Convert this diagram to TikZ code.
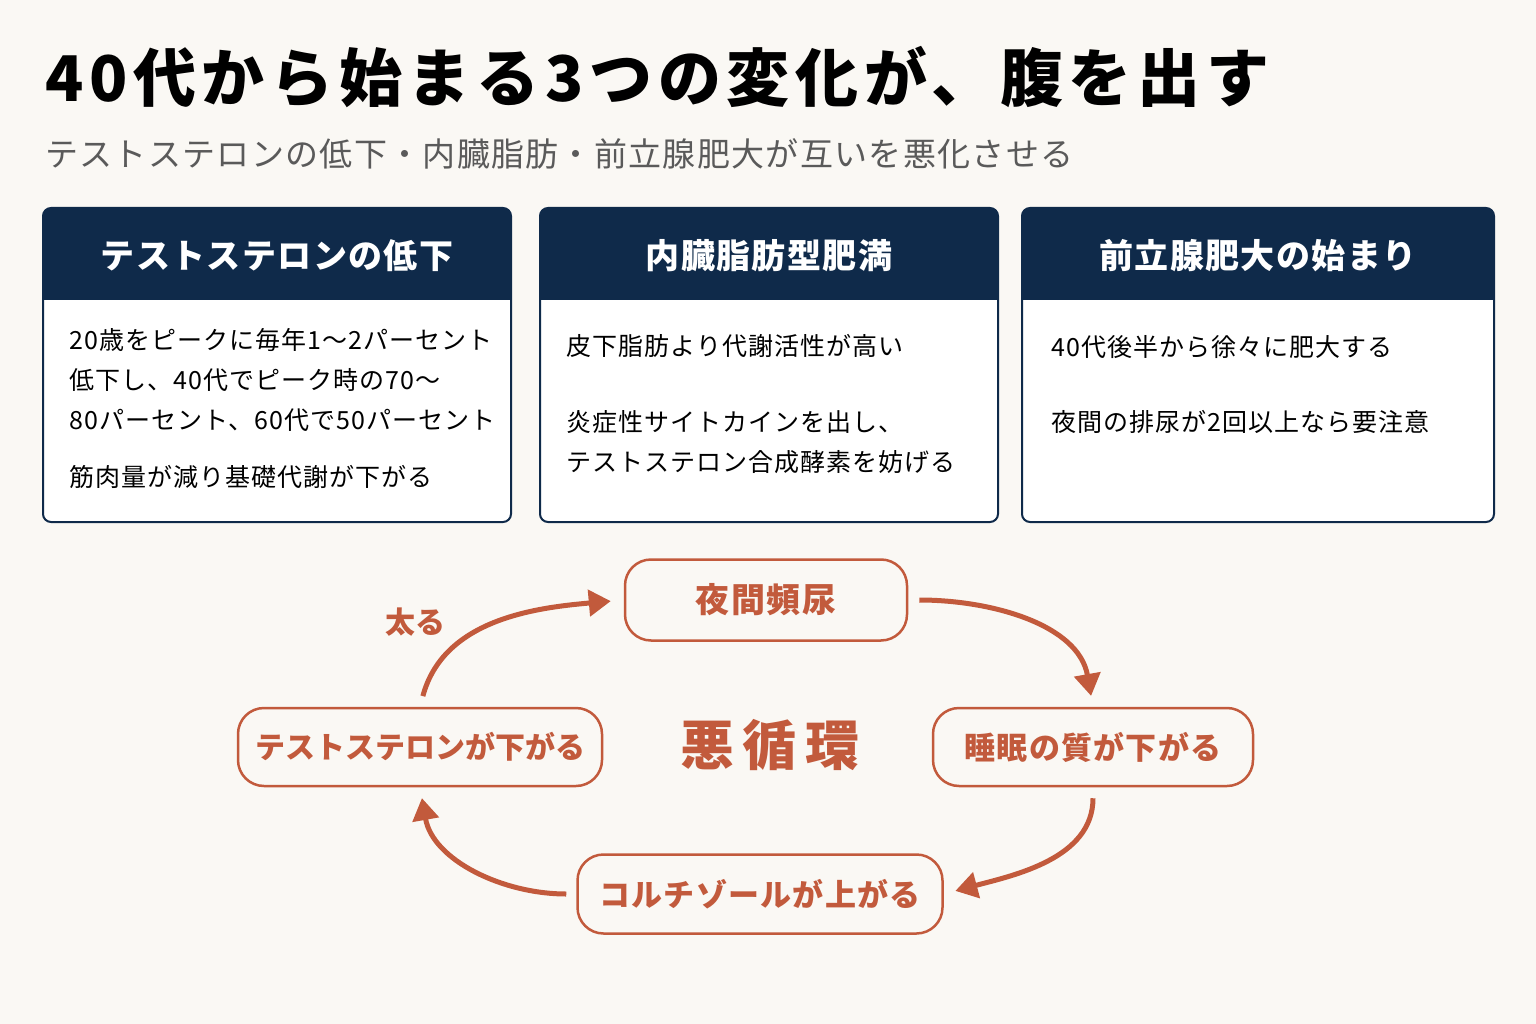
\documentclass[tikz,border=0pt]{standalone}
\usepackage{fontspec}
\setmainfont{Noto Sans CJK JP}
\newfontfamily\spaced{Noto Sans CJK JP}[LetterSpace=4]
\newfontfamily\wide{Noto Sans CJK JP}[LetterSpace=9]
\usetikzlibrary{arrows.meta}
\definecolor{bg}{HTML}{FAF8F4}
\definecolor{navy}{HTML}{0F2A4A}
\definecolor{rust}{HTML}{C25A3C}
\definecolor{sub}{HTML}{5A5A5A}
\begin{document}
\begin{tikzpicture}[x=1pt,y=-1pt,
  card/.style={draw=navy,line width=2pt,rounded corners=8pt},
  htext/.style={text=white,font=\spaced\fontsize{34}{34}\selectfont\bfseries},
  body/.style={anchor=west,text=black,font=\spaced\fontsize{25}{25}\selectfont},
  cyc/.style={draw=rust,line width=2.5pt,rounded corners=26pt,text=rust,font=\spaced\fontsize{31}{31}\selectfont\bfseries,align=center},
  arr/.style={draw=rust,line width=5pt,-{Triangle[length=22pt,width=26pt]}}
]
\useasboundingbox[fill=bg] (0,0) rectangle (1536,1024);
\node[anchor=base west,font=\wide\fontsize{63}{63}\selectfont\bfseries,inner sep=0] (title) at (45,102) {40代から始まる3つの変化が、腹を出す};
\node[anchor=base west,font=\spaced\fontsize{33}{33}\selectfont,text=sub,inner sep=0] (subt) at (45,167) {テストステロンの低下・内臓脂肪・前立腺肥大が互いを悪化させる};
\foreach \a/\b/\n in {43/511/c1,540/998/c2,1022/1494/c3}{
  \begin{scope}
  \clip[rounded corners=8pt] (\a,208) rectangle (\b,522);
  \fill[navy] (\a,208) rectangle (\b,300);
  \fill[white] (\a,300) rectangle (\b,522);
  \end{scope}
  \draw[card] (\a,208) rectangle (\b,522);
}
\node[htext] (h1) at (277,256) {テストステロンの低下};
\node[htext] (h2) at (769,256) {内臓脂肪型肥満};
\node[htext] (h3) at (1258,256) {前立腺肥大の始まり};
\node[body] (b1a) at (66,340) {20歳をピークに毎年1〜2パーセント};
\node[body] (b1b) at (66,380) {低下し、40代でピーク時の70〜};
\node[body] (b1c) at (66,420) {80パーセント、60代で50パーセント};
\node[body] (b1d) at (66,477) {筋肉量が減り基礎代謝が下がる};
\node[body] (b2a) at (563,346) {皮下脂肪より代謝活性が高い};
\node[body] (b2b) at (563,422) {炎症性サイトカインを出し、};
\node[body] (b2c) at (563,462) {テストステロン合成酵素を妨げる};
\node[body] (b3a) at (1048,347) {40代後半から徐々に肥大する};
\node[body] (b3b) at (1048,422) {夜間の排尿が2回以上なら要注意};
\node[cyc,minimum width=282pt,minimum height=81pt,font=\spaced\fontsize{34}{34}\selectfont\bfseries] (yak) at (766,600) {夜間頻尿};
\node[cyc,minimum width=320pt,minimum height=78pt] (sui) at (1093,747) {睡眠の質が下がる};
\node[cyc,minimum width=365pt,minimum height=79pt] (cor) at (760,894) {コルチゾールが上がる};
\node[cyc,minimum width=364pt,minimum height=78pt,font=\fontsize{30}{30}\selectfont\bfseries] (tes) at (420,747) {テストステロンが下がる};
\node[text=rust,font=\fontsize{54}{54}\selectfont\bfseries] (aku) at (770,745) {悪\,循\,環};
\node[text=rust,font=\fontsize{30}{30}\selectfont\bfseries] (fut) at (415,622) {太る};
\draw[arr,shorten <=11pt,shorten >=13pt] (tes.north) to[out=75,in=185] (yak.west);
\draw[arr,shorten <=11pt,shorten >=11pt] (yak.east) to[out=0,in=100] (sui.north);
\draw[arr,shorten <=11pt,shorten >=12pt] (sui.south) to[out=-90,in=15] (cor.east);
\draw[arr,shorten <=10pt,shorten >=11pt] (cor.west) to[out=180,in=-80] (tes.south);
\end{tikzpicture}
\end{document}
